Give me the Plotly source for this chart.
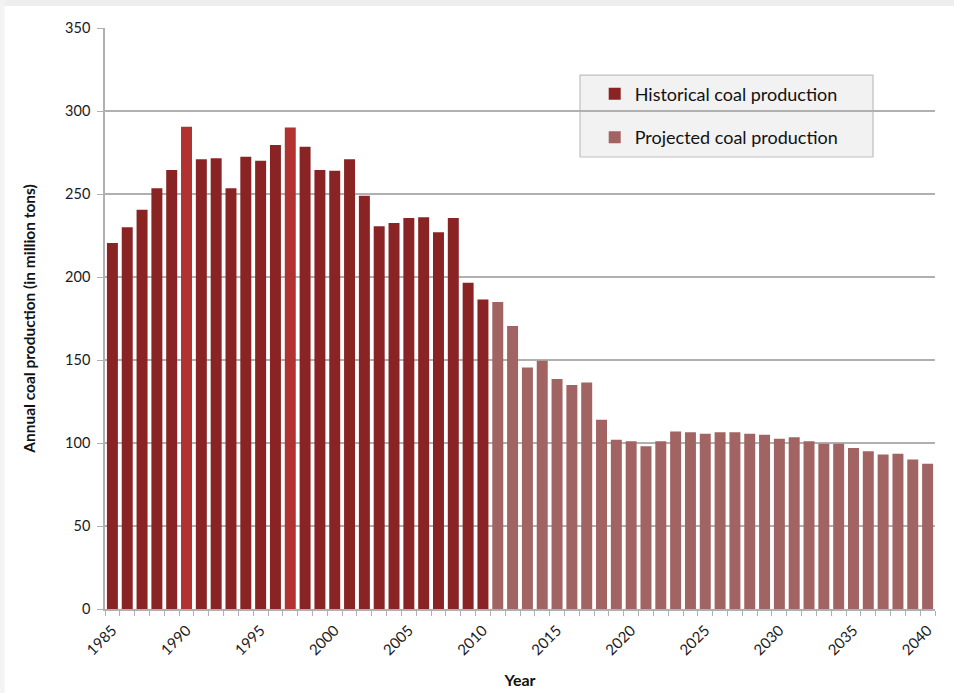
import plotly.graph_objects as go

# Annual coal production, million tons
hist_years = list(range(1985, 2011))
hist_values = [220.5, 230, 240.5, 253.5, 264.5, 290.5, 271, 271.5, 253.5, 272.5,
               270, 279.5, 290, 278.5, 264.5, 264, 271, 249, 230.5, 232.5,
               235.5, 236, 227, 235.5, 196.5, 186.5]
proj_years = list(range(2011, 2041))
proj_values = [185, 170.5, 145.5, 149.5, 138.5, 135, 136.5, 114, 102, 101,
               98, 101, 107, 106.5, 105.5, 106.5, 106.5, 105.5, 105, 102.5,
               103.5, 101, 99.5, 99.5, 97, 95, 93, 93.5, 90, 87.5]
peak_years = [1990, 1997]
label_years = list(range(1985, 2041, 5))
y_ticks = list(range(0, 351, 50))

HIST = "#8a2424"
PEAK = "#b23131"
PROJ = "#a16462"
GRID = "#b0b0b0"
FONT = "Lato, Open Sans, sans-serif"

hist_colors = [PEAK if y in peak_years else HIST for y in hist_years]

fig = go.Figure()
fig.add_trace(go.Bar(
    x=hist_years, y=hist_values, name="Historical coal production",
    marker=dict(color=hist_colors, line=dict(width=0)),
    width=0.74, legendgroup="h",
))
fig.add_trace(go.Bar(
    x=proj_years, y=proj_values, name="Projected coal production",
    marker=dict(color=PROJ, line=dict(width=0)),
    width=0.74, legendgroup="p",
))

# legend panel
fig.add_shape(type="rect", xref="paper", yref="paper",
              x0=0.5723, x1=0.9253, y0=0.778, y1=0.919,
              fillcolor="#f2f2f2", line=dict(color="#bfbfbf", width=1.2),
              layer="below")

# faint card edge along the top and left of the page
fig.add_shape(type="rect", xref="paper", yref="paper",
              x0=-0.2, x1=1.1, y0=1.038, y1=1.05,
              fillcolor="#eeeeee", line=dict(width=0), layer="below")
fig.add_shape(type="rect", xref="paper", yref="paper",
              x0=-0.2, x1=-0.121, y0=-0.2, y1=1.05,
              fillcolor="#f3f3f3", line=dict(width=0), layer="below")

fig.update_layout(
    width=954, height=693,
    margin=dict(l=105, r=19, t=28, b=84),
    paper_bgcolor="white", plot_bgcolor="white",
    font=dict(family=FONT, color="#1a1a1a", size=14),
    bargap=0.26,
    showlegend=True,
    legend=dict(
        x=0.59, y=0.918, xanchor="left", yanchor="top",
        bgcolor="rgba(0,0,0,0)", borderwidth=0,
        font=dict(family=FONT, size=18, color="#111"),
        tracegroupgap=17, traceorder="grouped",
    ),
    xaxis=dict(
        range=[1984.5, 2040.5], automargin=False,
        tickmode="array", tickvals=label_years,
        ticktext=[str(y) for y in label_years],
        tickangle=-45, ticks="outside", ticklen=0,
        tickfont=dict(size=15), ticklabelstandoff=5,
        showgrid=False, zeroline=False,
        showline=True, linecolor=GRID, linewidth=1.5,
        minor=dict(ticks="outside", tick0=1984.5, dtick=1, ticklen=5,
                   tickcolor=GRID, tickwidth=1, showgrid=False),
        title=dict(text="<b>Year</b>", font=dict(size=16, color="#111"), standoff=18),
    ),
    yaxis=dict(
        range=[0, 350], tickvals=y_ticks, automargin=False,
        ticks="outside", ticklen=6, tickcolor=GRID, tickwidth=1,
        tickfont=dict(size=14.5), ticklabelstandoff=4,
        showgrid=True, gridcolor=GRID, gridwidth=1.5,
        zeroline=False,
        showline=True, linecolor=GRID, linewidth=1.5,
        title=dict(text="<b>Annual coal production (in million tons)</b>",
                   font=dict(size=15.5, color="#111"), standoff=26),
    ),
)

fig.write_html("out.html")
